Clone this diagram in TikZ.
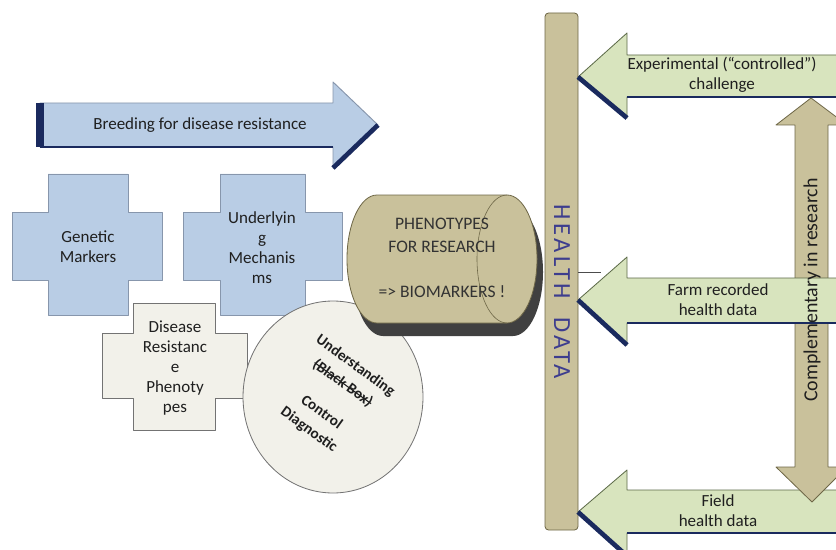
\documentclass[tikz,border=0pt]{standalone}
\usepackage{fontspec}
\setmainfont{Carlito}
\newfontfamily\healthfont[LetterSpace=14]{Carlito}
\newcommand\crossout[1]{{\setbox0\hbox{#1}\rlap{\rule[0.55ex]{\wd0}{0.9pt}}\box0}}
\usetikzlibrary{shapes,positioning}
\definecolor{bluefill}{HTML}{B9CDE5}
\definecolor{bluedraw}{HTML}{8796AC}
\definecolor{navyline}{HTML}{1A2A5E}
\definecolor{tanfill}{HTML}{C9C19B}
\definecolor{tandraw}{HTML}{6E6747}
\definecolor{greenfill}{HTML}{D8E4BE}
\definecolor{greendraw}{HTML}{5C6A48}
\definecolor{creamfill}{HTML}{F2F1EA}
\definecolor{healthtext}{HTML}{3D3D8E}
\tikzset{
  txt/.style={font=\fontsize{14.5}{17}\selectfont, align=center, text=black!88},
  bluebox/.style={fill=bluefill, draw=bluedraw, line width=0.8pt},
  creambox/.style={fill=creamfill, draw=black!55, line width=0.7pt},
  tanbox/.style={fill=tanfill, draw=tandraw, line width=0.7pt},
  greenbox/.style={fill=greenfill, draw=greendraw, line width=0.7pt},
  navyedge/.style={draw=navyline, line width=#1},
  navyedge/.default=4pt
}

\begin{document}
\begin{tikzpicture}[x=0.3mm,y=-0.3mm,line join=round]
  \useasboundingbox (0,0) rectangle (836,550);
  \clip (0,0) rectangle (836,550);



  \draw [bluebox] (40,103) -- (333,103) -- (333,82) -- (378,125) -- (333,168)
    -- (333,147) -- (40,147) -- cycle;
  \draw [navyedge=6pt] (40,103) -- (40,147);
  \draw [navyedge] (378,125) -- (333,168);
  \draw [navyedge=2pt] (40,147) -- (333,147);
  \node [txt] (breeding) at (200,125) {Breeding for disease resistance};



  \draw [bluebox] (48,174) -- (128,174) -- (128,212) -- (162,212) -- (162,280)
    -- (128,280) -- (128,315) -- (48,315) -- (48,280) -- (12,280) -- (12,212)
    -- (48,212) -- cycle;
  \node [txt] (genetic) at (88,247) {Genetic\\Markers};

  \draw [bluebox] (220,174) -- (305,174) -- (305,212) -- (342,212) -- (342,280)
    -- (305,280) -- (305,315) -- (220,315) -- (220,280) -- (183,280) -- (183,212)
    -- (220,212) -- cycle;
  \node [txt] (mechanisms) at (262,248) {Underlyin\\g\\Mechanis\\ms};

  \draw [creambox] (133,303) -- (215,303) -- (215,333) -- (247,333) -- (247,398)
    -- (215,398) -- (215,430) -- (133,430) -- (133,398) -- (102,398) -- (102,333)
    -- (133,333) -- cycle;
  \node [txt] (phenotypes) at (175,368) {Disease\\Resistanc\\e\\Phenoty\\pes};



  \draw [creambox] (333,397) ellipse [x radius=90, y radius=96];
  \node [txt, rotate=-36, font=\bfseries\fontsize{13}{18.5}\selectfont] (understanding)
    at (332,398) {Understanding\\\crossout{(Black Box)}\\[12pt]Control\\Diagnostic};



  \fill [black!75] (383,208) -- (513,208) arc [start angle=-90, end angle=90,
    x radius=30, y radius=64] -- (383,336) arc [start angle=90, end angle=270,
    x radius=30, y radius=64] -- cycle;
  \draw [tanbox] (377,195) -- (507,195) arc [start angle=-90, end angle=90,
    x radius=30, y radius=64] -- (377,323) arc [start angle=90, end angle=270,
    x radius=30, y radius=64] -- cycle;
  \draw [draw=tandraw, line width=0.5pt] (507,195) arc [start angle=270,
    end angle=90, x radius=30, y radius=64];
  \node [txt, font=\fontsize{15}{19.5}\selectfont, text=black!80] (research) at (442,258)
    {PHENOTYPES\\FOR RESEARCH\\[19pt]=> BIOMARKERS !};



  \draw [tanbox, rounded corners=3pt] (545,530) rectangle (578,13);
  \node [rotate=-90, font=\healthfont\fontsize{21}{21}\selectfont, text=healthtext]
    (health) at (562,292) {HEALTH\ \ DATA};
  \coordinate (fork) at (601,272);
  \draw [draw=black!70, line width=0.6pt] (578,272) -- (fork);



  \draw [greenbox] (840,55) -- (627,55) -- (627,33) -- (578,77) -- (627,118)
    -- (627,97) -- (840,97);
  \draw [navyedge] (578,77) -- (627,118);
  \draw [navyedge=2pt] (627,97) -- (840,97);
  \node [txt] (experimental) at (722,75) {Experimental (``controlled'')\\challenge};

  \draw [greenbox] (840,490) -- (627,490) -- (627,470) -- (578,512) -- (627,556)
    -- (627,533) -- (840,533);
  \draw [navyedge] (578,512) -- (627,556);
  \draw [navyedge=2pt] (627,533) -- (840,533);

  \draw [tanbox] (811,98) -- (847,125) -- (828,125) -- (828,467) -- (847,467)
    -- (812,502) -- (776,467) -- (795,467) -- (795,125) -- (776,125) -- cycle;

  \draw [greenbox] (840,278) -- (627,278) -- (627,257) -- (578,300) -- (627,345)
    -- (627,323) -- (840,323);
  \draw [navyedge] (578,300) -- (627,345);
  \draw [navyedge=2pt] (627,323) -- (840,323);
  \node [txt] (farm) at (718,300) {Farm recorded\\health data};

  \node [txt] (field) at (718,511) {Field\\health data};
  \node [txt, rotate=90, font=\fontsize{17}{17}\selectfont] (complementary) at (812,290)
    {Complementary in research};

\end{tikzpicture}
\end{document}
